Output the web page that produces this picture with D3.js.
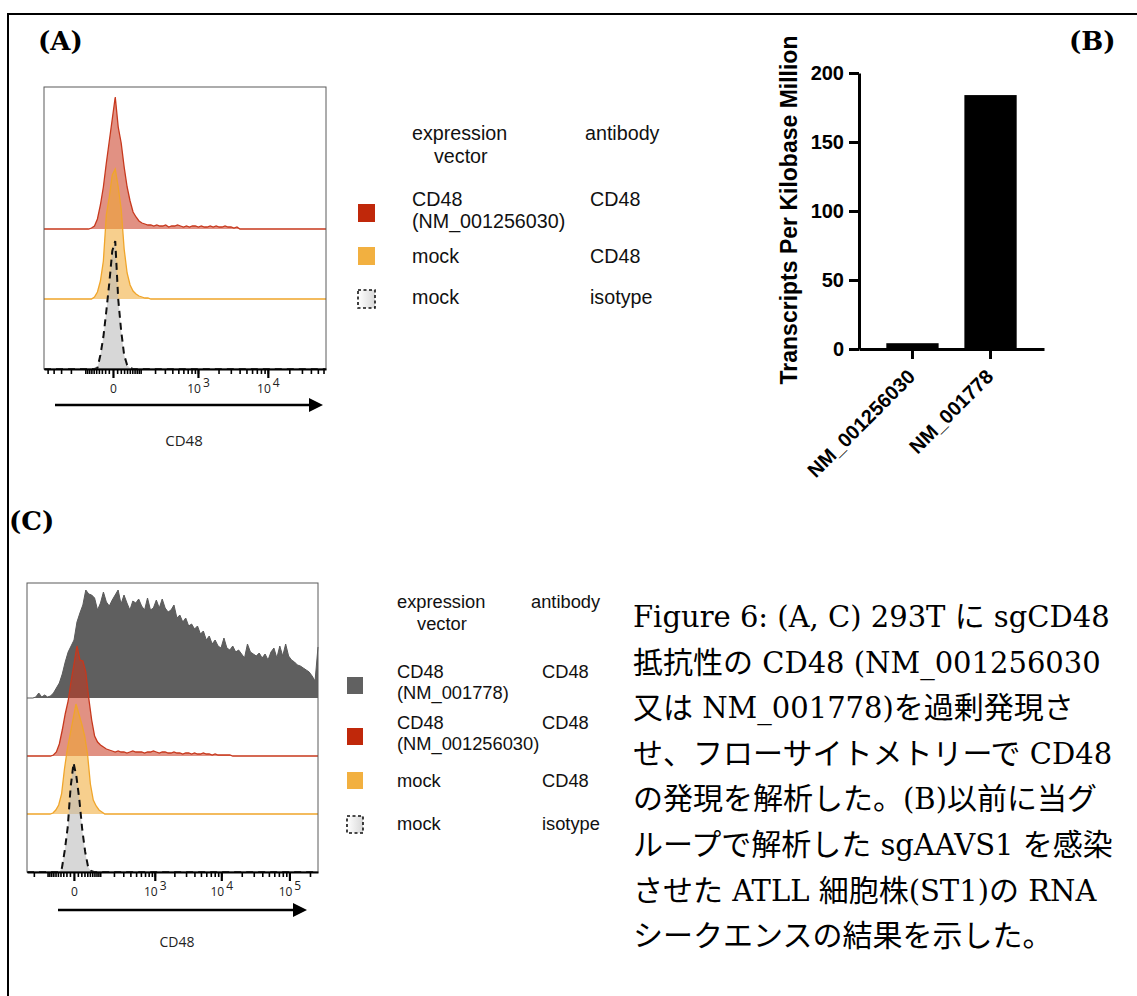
<!DOCTYPE html>
<html lang="ja">
<head>
<meta charset="UTF-8">
<title>Figure 6 - CD48 expression</title>
<script src="https://d3js.org/d3.v7.min.js"></script>
<style>
  body { margin: 0; background: #fff; }
  svg { display: block; }
</style>
</head>
<body>
<div id="chart"></div>
<script>
// ---------- data ----------
// (A) flow histograms, counts per display bin (96 bins across the plot)
var redA = [0,0,0,0,0,0,0,0,0,0,0,0,0,0,0,0,
  1,3,10,24,42,66,88,110,132,102,86,62,42,28,17,12,8,6,5,4,
  4,3,4,3,3,4,2,3,3,4,3,2,3,2,3,3,2,3,2,2,3,2,3,2,2,3,2,2,1,2,
  0,0,0,0,0,0,0,0,0,0,0,0,0,0,0,0,0,0,0,0,0,0,0,0,0,0,0,0,0,0];
var orangeA = [0,0,0,0,0,0,0,0,0,0,0,0,0,0,0,0,
  0,2,7,18,38,84,102,124,130,112,90,50,26,14,8,5,3,2,1,1,
  0,0,0,0,0,0,0,0,0,0,0,0,0,0,0,0,0,0,0,0,0,0,0,0,0,0,0,0,0,0,
  0,0,0,0,0,0,0,0,0,0,0,0,0,0,0,0,0,0,0,0,0,0,0,0,0,0,0,0,0,0];
var isoA = [0,0,0,0,0,0,0,0,0,0,0,0,0,0,0,0,0,0,
  1,14,32,58,86,118,128,70,38,14,4,1,
  0,0,0,0,0,0,0,0,0,0,0,0,0,0,0,0,0,0,0,0,0,0,0,0,0,0,0,0,0,0,0,0,0,
  0,0,0,0,0,0,0,0,0,0,0,0,0,0,0,0,0,0,0,0,0,0,0,0,0,0,0,0,0,0,0,0,0];

// (C) flow histograms, counts per display bin (100 bins across the plot)
var grayC = [0,0,0,1,5,1,3,1,2,5, 10,15,24,36,46,52,58,76,85,93,
  108,104,103,100,88,95,106,96,92,98, 103,108,94,103,95,88,97,95,99,92,
  88,100,88,90,98,90,99,90,86,88, 93,80,83,76,80,72,74,69,72,64,
  67,58,62,54,58,52,50,60,50,48, 52,46,48,44,40,54,46,44,42,45,
  40,44,38,46,50,40,52,42,54,42, 38,36,33,32,30,28,26,22,17,51];
var redC = [0,0,0,0,0,0,0,0,0,
  1,4,12,26,42,55,75,92,110,96,95,84,58,36,20,14,11,9,7,6,5,
  4,5,4,4,3,4,5,4,4,4, 3,4,4,5,4,3,4,4,3,3, 4,3,3,2,3,3,2,3,2,2, 3,2,2,1,2,1,1,1,1,1, 0,
  0,0,0,0,0,0,0,0,0,0,0,0,0,0,0,0,0,0,0,0,0,0,0,0,0,0,0,0,0];
var orangeC = [0,0,0,0,0,0,0,0,0,
  1,4,9,20,45,65,80,95,110,100,90,78,60,30,14,8,4,2,
  0,0,0,0,0,0,0,0,0,0,0,0,0,0,0,0,0,0,0,0,0,0,0,0,0,0,0,0,0,0,0,0,0,0,0,0,0,
  0,0,0,0,0,0,0,0,0,0,0,0,0,0,0,0,0,0,0,0,0,0,0,0,0,0,0,0,0,0,0,0,0,0,0,0,0,0];
var isoC = [0,0,0,0,0,0,0,0,0,0,0,0,
  4,22,45,85,109,95,72,42,20,5,1,
  0,0,0,0,0,0,0,0,0,0,0,0,0,0,0,0,0,0,0,0,0,0,0,0,0,0,0,0,0,0,0,0,0,0,0,0,0,0,0,0,
  0,0,0,0,0,0,0,0,0,0,0,0,0,0,0,0,0,0,0,0,0,0,0,0,0,0,0,0,0,0,0,0,0,0,0,0,0,0];

var flowMajorA = [0, 1000, 10000];
var flowMajorC = [0, 1000, 10000, 100000];
var flowTickBase = ["0", "10", "10", "10"];
var flowTickExp = ["", "3", "4", "5"];

// (B) RNA-seq TPM
var tpmCategories = ["NM_001256030", "NM_001778"];
var tpmValues = [4.2, 184];
var tpmTicks = [0, 50, 100, 150, 200];

// legends
var legendAVector = [["CD48", "(NM_001256030)"], ["mock"], ["mock"]];
var legendAAntibody = ["CD48", "CD48", "isotype"];
var legendAColors = ["#c0280a", "#f2b040", null];
var legendCVector = [["CD48", "(NM_001778)"], ["CD48", "(NM_001256030)"], ["mock"], ["mock"]];
var legendCAntibody = ["CD48", "CD48", "CD48", "isotype"];
var legendCColors = ["#616161", "#c0280a", "#f2b040", null];

var captionLines = [
  "Figure 6: (A, C) 293T に sgCD48",
  "抵抗性の CD48 (NM_001256030",
  "又は NM_001778)を過剰発現さ",
  "せ、フローサイトメトリーで CD48",
  "の発現を解析した。(B)以前に当グ",
  "ループで解析した sgAAVS1 を感染",
  "させた ATLL 細胞株(ST1)の RNA",
  "シークエンスの結果を示した。"
];

// ---------- drawing ----------
var svg = d3.select("#chart").append("svg")
  .attr("width", 1137)
  .attr("height", 996);

svg.append("path")
  .attr("d", "M8,996V14H1137")
  .attr("fill", "none")
  .attr("stroke", "#000")
  .attr("stroke-width", 2);

var styles = {
  red: { fill: "#c8361d", opacity: 0.55, stroke: "#c7381d", width: 1.3, dash: null },
  orange: { fill: "#f0a830", opacity: 0.55, stroke: "#f0a52a", width: 1.3, dash: null },
  iso: { fill: "#bdbdbd", opacity: 0.6, stroke: "#111", width: 2, dash: "7,5" },
  gray: { fill: "#5f5f5f", opacity: 1, stroke: "#5a5a5a", width: 1, dash: null }
};

function drawFlow(p) {
  var x = d3.scaleSymlog().constant(70).domain(p.domain).range([p.left, p.right]);
  var y = d3.scaleLinear().domain([0, p.maxCount]).range([0, p.peak]);
  var g = svg.append("g");

  // series listed from top lane to bottom lane; bottom ones drawn last
  p.series.forEach(function (s, k) {
    var base = p.axisY - (p.series.length - 1 - k) * p.step;
    var st = styles[s.style];
    var bin = d3.scaleLinear().domain([0, s.counts.length - 1]).range(x.range());
    var area = d3.area()
      .x(function (d, i) { return bin(i); })
      .y0(base)
      .y1(function (d) { return base - y(d); });
    var line = d3.line()
      .x(function (d, i) { return bin(i); })
      .y(function (d) { return base - y(d); });
    g.append("path").datum(s.counts)
      .attr("d", area)
      .attr("fill", st.fill)
      .attr("fill-opacity", st.opacity);
    g.append("path").datum(s.counts)
      .attr("d", line)
      .attr("fill", "none")
      .attr("stroke", st.stroke)
      .attr("stroke-width", st.width)
      .attr("stroke-dasharray", st.dash);
  });

  g.append("rect")
    .attr("x", p.left).attr("y", p.top)
    .attr("width", p.right - p.left).attr("height", p.axisY - p.top)
    .attr("fill", "none")
    .attr("stroke", "#5a5a5a")
    .attr("stroke-width", 1);

  var decades = [10, 100, 1000, 10000, 100000];
  var minor = decades.flatMap(function (d) { return d3.range(1, 10).map(function (k) { return k * d; }); });
  minor = minor.concat(minor.map(function (v) { return -v; }))
    .filter(function (v) { return v > p.domain[0] && v < p.domain[1]; });

  var minorAxis = g.append("g")
    .attr("transform", "translate(0," + p.axisY + ")")
    .call(d3.axisBottom(x).tickValues(minor).tickSize(5).tickSizeOuter(0).tickFormat(""));
  minorAxis.selectAll(".tick line").attr("stroke-width", 1.6);
  minorAxis.select(".domain").attr("stroke-width", 2.2);

  var majorAxis = g.append("g")
    .attr("transform", "translate(0," + p.axisY + ")")
    .call(d3.axisBottom(x).tickValues(p.major).tickSize(9).tickSizeOuter(0).tickFormat(""));
  majorAxis.select(".domain").remove();
  majorAxis.selectAll(".tick line").attr("stroke-width", 2.2);
  majorAxis.selectAll(".tick text").each(function (d, i) {
    var t = d3.select(this)
      .attr("y", 24).attr("dy", 0)
      .attr("font-family", "'Open Sans', 'Liberation Sans', sans-serif")
      .attr("font-size", 12)
      .attr("fill", "#222")
      .attr("text-anchor", "middle");
    t.append("tspan").text(flowTickBase[i]);
    if (flowTickExp[i]) {
      t.append("tspan").attr("dx", 2).attr("dy", -6).text(flowTickExp[i]);
    }
  });

  // arrow under the axis
  g.append("line")
    .attr("x1", p.arrow[0]).attr("x2", p.arrow[1] - 10)
    .attr("y1", p.arrow[2]).attr("y2", p.arrow[2])
    .attr("stroke", "#000").attr("stroke-width", 2.5);
  g.append("path")
    .attr("d", "M" + (p.arrow[1] - 14) + "," + (p.arrow[2] - 7) +
      "L" + p.arrow[1] + "," + p.arrow[2] +
      "L" + (p.arrow[1] - 14) + "," + (p.arrow[2] + 7) + "Z")
    .attr("fill", "#000");

  g.append("text")
    .attr("x", p.title[0]).attr("y", p.title[1])
    .attr("text-anchor", "middle")
    .attr("font-family", "'Open Sans', 'Liberation Sans', sans-serif")
    .attr("font-size", p.titleSize)
    .attr("fill", "#222")
    .text("CD48");
}

function drawLegend(L) {
  var g = svg.append("g")
    .attr("font-family", "'Liberation Sans', Arial, sans-serif")
    .attr("font-size", L.fontSize)
    .attr("fill", "#111");
  g.append("text").attr("x", L.textX).attr("y", L.headY).text("expression");
  g.append("text").attr("x", L.textX + L.vectorIndent).attr("y", L.headY + L.lineH).text("vector");
  g.append("text").attr("x", L.headAbX).attr("y", L.headY).text("antibody");

  L.vector.forEach(function (lines, i) {
    var row = L.rows[i];
    var sq = g.append("rect")
      .attr("x", L.sqX).attr("y", row[0])
      .attr("width", L.sqW).attr("height", L.sqH);
    if (L.colors[i]) {
      sq.attr("fill", L.colors[i]);
    } else {
      sq.attr("fill", "url(#isoGrad)")
        .attr("stroke", "#111").attr("stroke-width", 1.6)
        .attr("stroke-dasharray", "3,2.5");
    }
    lines.forEach(function (s, j) {
      g.append("text").attr("x", L.textX).attr("y", row[1] + j * L.rowLineH).text(s);
    });
    g.append("text").attr("x", L.abX).attr("y", row[1]).text(L.antibody[i]);
  });
}

var defs = svg.append("defs");
var grad = defs.append("linearGradient").attr("id", "isoGrad");
grad.append("stop").attr("offset", "0%").attr("stop-color", "#ffffff");
grad.append("stop").attr("offset", "100%").attr("stop-color", "#d8d8d8");

// panel A
drawFlow({
  domain: [-570, 65000], left: 44, right: 326, top: 87, axisY: 369,
  step: 70, peak: 135, maxCount: 135,
  series: [
    { counts: redA, style: "red" },
    { counts: orangeA, style: "orange" },
    { counts: isoA, style: "iso" }
  ],
  major: flowMajorA,
  arrow: [55, 323, 405],
  title: [184, 446], titleSize: 15
});

drawLegend({
  fontSize: 19.7, textX: 412, vectorIndent: 22, headY: 140, lineH: 23, headAbX: 585,
  abX: 590, sqX: 358, sqW: 17, sqH: 18, rowLineH: 22,
  rows: [[204, 206], [247, 263], [290, 304]],
  vector: legendAVector, antibody: legendAAntibody, colors: legendAColors
});

// panel C
drawFlow({
  domain: [-270, 262144], left: 27, right: 318, top: 583, axisY: 872,
  step: 58, peak: 110, maxCount: 110,
  series: [
    { counts: grayC, style: "gray" },
    { counts: redC, style: "red" },
    { counts: orangeC, style: "orange" },
    { counts: isoC, style: "iso" }
  ],
  major: flowMajorC,
  arrow: [58, 307, 910],
  title: [177, 947], titleSize: 14
});

drawLegend({
  fontSize: 18.3, textX: 397, vectorIndent: 20, headY: 608, lineH: 22, headAbX: 531,
  abX: 542, sqX: 347, sqW: 16, sqH: 17, rowLineH: 21,
  rows: [[677, 678], [728, 729], [772, 787], [816, 830]],
  vector: legendCVector, antibody: legendCAntibody, colors: legendCColors
});

// panel B: bar chart
var bx = d3.scaleBand().domain(tpmCategories).range([859, 1044]).paddingInner(0.33).paddingOuter(0.35);
var by = d3.scaleLinear().domain([0, 200]).range([349, 73]);
var gB = svg.append("g");

gB.selectAll("rect.bar")
  .data(tpmValues)
  .enter()
  .append("rect")
  .attr("class", "bar")
  .attr("x", function (d, i) { return bx(tpmCategories[i]); })
  .attr("y", function (d) { return by(d); })
  .attr("width", bx.bandwidth())
  .attr("height", function (d) { return by(0) - by(d); })
  .attr("fill", "#000");

var yAxisB = gB.append("g")
  .attr("transform", "translate(859,0)")
  .call(d3.axisLeft(by).tickValues(tpmTicks).tickSize(10).tickSizeOuter(0).tickPadding(5));
var xAxisB = gB.append("g")
  .attr("transform", "translate(0,349)")
  .call(d3.axisBottom(bx).tickSize(10).tickSizeOuter(0).tickFormat(""));
[yAxisB, xAxisB].forEach(function (a) {
  a.select(".domain").attr("stroke-width", 3);
  a.selectAll(".tick line").attr("stroke-width", 3);
});
yAxisB.selectAll(".tick text")
  .attr("font-family", "'Liberation Sans', Arial, sans-serif")
  .attr("font-weight", "bold")
  .attr("font-size", 20)
  .attr("fill", "#000");

gB.selectAll("text.cat")
  .data(tpmCategories)
  .enter()
  .append("text")
  .attr("class", "cat")
  .attr("transform", function (d) { return "translate(" + (bx(d) + bx.bandwidth() / 2 + 4) + ",378) rotate(-45)"; })
  .attr("text-anchor", "end")
  .attr("font-family", "'Liberation Sans', Arial, sans-serif")
  .attr("font-weight", "bold")
  .attr("font-size", 20)
  .text(function (d) { return d; });

gB.append("text")
  .attr("transform", "translate(797,210) rotate(-90)")
  .attr("text-anchor", "middle")
  .attr("font-family", "'Liberation Sans', Arial, sans-serif")
  .attr("font-weight", "bold")
  .attr("font-size", 23)
  .text("Transcripts Per Kilobase Million");

// panel letters
[["(A)", 38, 50], ["(B)", 1069, 50], ["(C)", 9, 530]].forEach(function (p) {
  svg.append("text")
    .attr("x", p[1]).attr("y", p[2])
    .attr("font-family", "'DejaVu Serif', 'Liberation Serif', serif")
    .attr("font-weight", "bold")
    .attr("font-size", 26)
    .text(p[0]);
});

// caption
var cjk = /([\u3000-\u30ff\u4e00-\u9fff\uff00-\uffef]+)/;
captionLines.forEach(function (line, i) {
  var t = svg.append("text")
    .attr("x", 633)
    .attr("y", 627 + i * 45.6)
    .attr("fill", "#000");
  line.split(cjk).forEach(function (part) {
    if (!part) return;
    var isCjk = cjk.test(part);
    t.append("tspan")
      .attr("font-family", isCjk ? "'Noto Sans CJK JP', sans-serif" : "'DejaVu Serif', 'Liberation Serif', serif")
      .attr("font-size", isCjk ? 30 : 29)
      .text(part);
  });
});
</script>
</body>
</html>
